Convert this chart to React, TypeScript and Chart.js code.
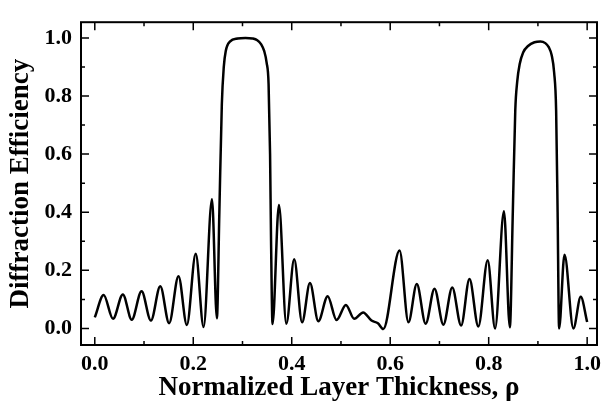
import { useEffect, useRef } from "react";
import { Chart, registerables } from "chart.js";

Chart.register(...registerables);

const rho = [
  0.0, 0.018, 0.037, 0.057, 0.075, 0.095, 0.114, 0.133, 0.151, 0.17, 0.187, 0.205, 0.221, 0.238, 0.248,
  0.253, 0.258, 0.262, 0.266, 0.275, 0.29, 0.306, 0.32, 0.33, 0.338, 0.344, 0.349, 0.353, 0.356, 0.358, 0.361,
  0.374, 0.389, 0.405, 0.421, 0.437, 0.454, 0.473, 0.491, 0.51, 0.527, 0.545, 0.562, 0.575, 0.586,
  0.619, 0.637, 0.654, 0.672, 0.69, 0.708, 0.726, 0.744, 0.761, 0.779, 0.798, 0.813, 0.831, 0.843,
  0.849, 0.854, 0.858, 0.863, 0.87, 0.88, 0.893, 0.905, 0.915, 0.922, 0.928, 0.933, 0.937, 0.94, 0.943,
  0.954, 0.972, 0.987, 1.0,
];

const efficiency = [
  0.038, 0.115, 0.033, 0.117, 0.03, 0.128, 0.027, 0.145, 0.018, 0.18, 0.012, 0.257, 0.005, 0.445, 0.035,
  0.4, 0.77, 0.9, 0.955, 0.988, 0.998, 1.0, 0.998, 0.992, 0.978, 0.955, 0.915, 0.84, 0.6, 0.3, 0.015,
  0.425, 0.016, 0.238, 0.021, 0.156, 0.025, 0.111, 0.029, 0.081, 0.033, 0.055, 0.027, 0.018, -0.002,
  0.268, 0.021, 0.153, 0.016, 0.137, 0.013, 0.141, 0.01, 0.17, 0.007, 0.235, 0.0, 0.403, 0.004,
  0.4, 0.75, 0.85, 0.91, 0.95, 0.972, 0.985, 0.988, 0.982, 0.968, 0.94, 0.88, 0.75, 0.4, 0.0,
  0.254, 0.0, 0.109, 0.022,
];

const xMajorTicks = [0.0, 0.2, 0.4, 0.6, 0.8, 1.0];
const xMinorTicks = [0.1, 0.3, 0.5, 0.7, 0.9];
const yMajorTicks = [0.0, 0.2, 0.4, 0.6, 0.8, 1.0];
const yMinorTicks = [0.1, 0.3, 0.5, 0.7, 0.9];

const xTitle = "Normalized Layer Thickness, \u03c1";
const yTitle = "Diffraction Efficiency";

const FONT = "'Liberation Serif', 'Times New Roman', serif";

const frameTicksPlugin = {
  id: "frameTicks",
  afterDraw(chart: any) {
    const { ctx, chartArea } = chart;
    const xs = chart.scales.x;
    const ys = chart.scales.y;
    const { left, right, top, bottom } = chartArea;
    ctx.save();
    ctx.strokeStyle = "#000";
    ctx.lineWidth = 2;
    ctx.strokeRect(left, top, right - left, bottom - top);
    ctx.lineWidth = 1.5;
    const major = 8;
    const minor = 4;
    ctx.beginPath();
    const xt = (v: number, len: number) => {
      const p = xs.getPixelForValue(v);
      ctx.moveTo(p, bottom);
      ctx.lineTo(p, bottom - len);
      ctx.moveTo(p, top);
      ctx.lineTo(p, top + len);
    };
    const yt = (v: number, len: number) => {
      const p = ys.getPixelForValue(v);
      ctx.moveTo(left, p);
      ctx.lineTo(left + len, p);
      ctx.moveTo(right, p);
      ctx.lineTo(right - len, p);
    };
    xMajorTicks.forEach((v) => xt(v, major));
    xMinorTicks.forEach((v) => xt(v, minor));
    yMajorTicks.forEach((v) => yt(v, major));
    yMinorTicks.forEach((v) => yt(v, minor));
    ctx.stroke();
    ctx.restore();
  },
};

export default function App() {
  const ref = useRef<HTMLCanvasElement | null>(null);
  useEffect(() => {
    document.body.style.margin = "0";
    const canvas = ref.current;
    if (!canvas) return;
    const chart = new Chart(canvas, {
      type: "line",
      data: {
        datasets: [
          {
            data: rho.map((x, i) => ({ x, y: efficiency[i] })),
            borderColor: "#000",
            borderWidth: 2.5,
            pointRadius: 0,
            fill: false,
            cubicInterpolationMode: "monotone",
          },
        ],
      },
      options: {
        animation: false,
        responsive: false,
        devicePixelRatio: 1,
        layout: { padding: { left: 0, top: 15, right: 5, bottom: 0 } },
        plugins: { legend: { display: false }, tooltip: { enabled: false } },
        scales: {
          x: {
            type: "linear",
            min: -0.028,
            max: 1.02,
            grid: { display: false, drawTicks: false },
            border: { display: false },
            afterBuildTicks: (s: any) => {
              s.ticks = xMajorTicks.map((v) => ({ value: v }));
            },
            afterFit: (s: any) => {
              s.height = 67;
            },
            ticks: {
              color: "#000",
              padding: 6,
              maxRotation: 0,
              font: { family: FONT, size: 22, weight: "bold" },
              callback: (v: any) => Number(v).toFixed(1),
            },
            title: {
              display: true,
              text: xTitle,
              color: "#000",
              padding: { top: 0, bottom: 8 },
              font: { family: FONT, size: 27, weight: "bold" },
            },
          },
          y: {
            type: "linear",
            min: -0.057,
            max: 1.054,
            grid: { display: false, drawTicks: false },
            border: { display: false },
            afterBuildTicks: (s: any) => {
              s.ticks = yMajorTicks.map((v) => ({ value: v }));
            },
            afterFit: (s: any) => {
              s.width = 81;
            },
            ticks: {
              color: "#000",
              padding: 9,
              font: { family: FONT, size: 22, weight: "bold" },
              callback: (v: any) => Number(v).toFixed(1),
            },
            title: {
              display: true,
              text: yTitle,
              color: "#000",
              padding: { top: 5, bottom: 0 },
              font: { family: FONT, size: 27, weight: "bold" },
            },
          },
        },
      },
      plugins: [frameTicksPlugin],
    });
    return () => chart.destroy();
  }, []);
  return (
    <div style={{ width: 607, height: 412, background: "#fff" }}>
      <canvas ref={ref} width={607} height={412} style={{ display: "block" }} />
    </div>
  );
}
